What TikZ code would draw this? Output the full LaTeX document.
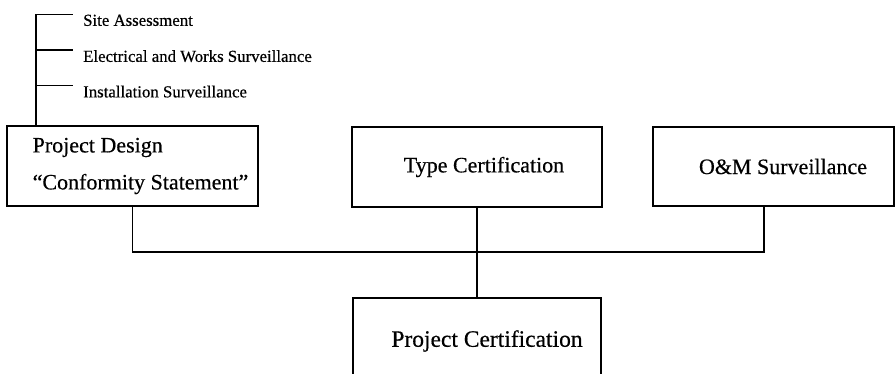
\documentclass[tikz,border=0pt]{standalone}
\usepackage{fontspec}
\setmainfont{Liberation Serif}[FakeBold=0.5]
\usepackage{tikz}
\usetikzlibrary{positioning}

\tikzset{
  box/.style={draw, line width=1.8pt, inner sep=0pt, font=\fontsize{22}{37}\selectfont},
  wire/.style={line width=1.8pt},
  item/.style={anchor=north west, inner xsep=10pt, inner ysep=0pt, font=\fontsize{16.8}{20}\selectfont}
}

\begin{document}
\begin{tikzpicture}[x=1pt,y=-1pt]

           \clip (0,0) rectangle (895,374);

           % top row of boxes
           \node [box, minimum width=251pt, minimum height=80pt, align=left] (design) at (132.5,166)
                 {\hspace*{16pt}Project Design\\\hspace*{16pt}“Conformity Statement”};
           \node [box, minimum width=250pt, minimum height=80pt] (type) at (477,167) {\hspace*{14pt}Type Certification};
           \node [box, minimum width=241pt, minimum height=79pt] (om) at (773.5,166.5) {\hspace*{19pt}O\&M Surveillance};

           % bottom box, runs off the page
           \node [box, minimum width=248pt, minimum height=86pt, font=\fontsize{23.5}{28}\selectfont] (project) at (477,341) {\hspace*{20pt}Project Certification};

           % the tasks hanging above the design box
           \node [item] (site) at (73,14.5) {Site Assessment};
           \node [item] (elec) at (73,50) {Electrical and Works Surveillance};
           \node [item] (inst) at (73,85.5) {Installation Surveillance};

           \path (design.north west) ++(30,0) coordinate (trunk);
           \draw [wire] (trunk) |- (site.north west);
           \draw [wire] (trunk |- elec.north west) -- (elec.north west);
           \draw [wire] (trunk |- inst.north west) -- (inst.north west);

           % bus joining the three boxes
           \coordinate (bus) at (477,252);
           \draw [wire] (design.south) |- (bus) -| ([xshift=-9.5pt]om.south);
           \draw [wire] (type.south) -- (project.north);

\end{tikzpicture}
\end{document}
